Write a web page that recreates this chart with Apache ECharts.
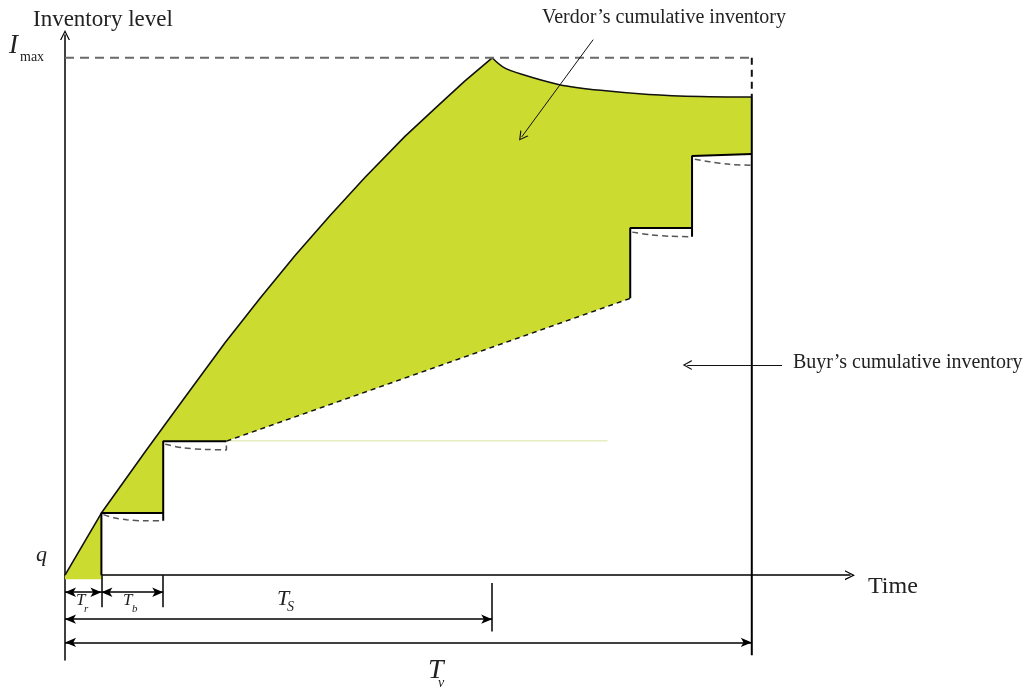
<!DOCTYPE html>
<html>
<head>
<meta charset="utf-8">
<script src="https://cdn.jsdelivr.net/npm/echarts@6/dist/echarts.min.js"></script>
<style>
html, body { margin: 0; background: #fff; }
#chart { width: 1027px; height: 691px; }
</style>
</head>
<body>
<div id="chart"></div>
<script>
// Einheiten: Zeit so, dass Tv = 100, Bestand so, dass Imax = 100

// Lieferant: kumulierter Bestand (Anstieg bis Imax, danach Abnahme)
var vendorRiseT = [0, 5.3, 11.7, 17.2, 23.3, 28.4, 33.5, 38.6, 43.7, 49.5, 54.2, 58.2, 62.2];
var vendorRiseI = [0, 12.0, 23.9, 33.9, 44.9, 53.5, 61.8, 69.5, 76.9, 84.8, 90.6, 95.5, 100];
var vendorFallT = [62.2, 63.8, 66.5, 72, 78, 85, 92.5, 100];
var vendorFallI = [100, 98.2, 96.8, 94.8, 93.7, 92.9, 92.5, 92.4];

// Käufer: Treppenkante (durchgezogen), je Abschnitt
var buyerStepT = [[5.3, 5.3, 14.3, 14.3, 14.3, 23.5], [82.3, 82.3, 91.3, 91.3, 91.3, 100]];
var buyerStepI = [[0, 12.0, 12.0, 10.5, 25.9, 25.9], [53.5, 67.1, 67.1, 65.4, 81.0, 81.4]];

// Verbrauchskurven unter den Stufen (gestrichelt)
var dipT = [[5.6, 7.1, 9.0, 11.6, 14.3], [14.6, 17.2, 20.5, 23.5, 23.5], [82.6, 85.2, 88.1, 91.3], [91.7, 93.9, 96.8, 100.4]];
var dipI = [[11.7, 11.1, 10.7, 10.5, 10.5], [25.3, 24.6, 24.3, 24.2, 25.9], [66.3, 65.8, 65.5, 65.4], [80.4, 79.9, 79.4, 79.2]];

// gestrichelter Anstieg zwischen den Lieferungen
var rampT = [23.5, 82.3];
var rampI = [25.9, 53.5];

// Untere Kante der grünen Fläche (rückwärts)
var fillLowT = [100, 91.3, 91.3, 82.3, 82.3, 23.5, 14.3, 14.3, 5.3, 5.3, 0];
var fillLowI = [81.4, 81.0, 67.1, 67.1, 53.5, 25.9, 25.9, 12.0, 12.0, -0.8, -0.8];

// Niveaus und Perioden
var Imax = 100;
var Tv = 100;
var Ts = 62.2;
var Tr = 5.3;
var Tb = 14.3;

function pairs(ts, is) {
	return ts.map(function (t, k) { return [t, is[k]]; });
}

var chevron = 'path://M0,10 L5,0 L10,10 L8.7,10 L5,2.6 L1.3,10 Z';
var serif = 'Liberation Serif';
var ink = '#222';

function plainLine(data, color, width, type, smooth) {
	return {
		type: 'line',
		data: data,
		showSymbol: false,
		symbol: 'none',
		smooth: smooth || false,
		silent: true,
		z: 3,
		lineStyle: { color: color, width: width, type: type || 'solid' }
	};
}

var fillPts = pairs(vendorRiseT, vendorRiseI)
	.concat(pairs(vendorFallT, vendorFallI).slice(1))
	.concat(pairs(fillLowT, fillLowI));

var series = [];

// Grüne Fläche zwischen Lieferant und Käufer
series.push({
	type: 'custom',
	silent: true,
	z: 1,
	data: [[0, 0]],
	renderItem: function (params, api) {
		var pts = fillPts.map(function (p) { return api.coord(p); });
		return { type: 'polygon', shape: { points: pts }, style: { fill: '#cbdb2f' } };
	}
});

// schwacher Schatten einer Linie
series.push(plainLine([[23.5, 26.0], [79, 26.0]], '#e6eebf', 1.5));

series.push(plainLine(pairs(vendorRiseT, vendorRiseI), '#111', 1.6));
series.push(plainLine(pairs(vendorFallT, vendorFallI), '#111', 1.5, 'solid', 0.3));

buyerStepT.forEach(function (ts, k) {
	series.push(plainLine(pairs(ts, buyerStepI[k]), '#000', 2));
});
dipT.forEach(function (ts, k) {
	series.push(plainLine(pairs(ts, dipI[k]), '#555', 1.5, [6, 4], 0.3));
});
series.push(plainLine(pairs(rampT, rampI), '#111', 1.5, [5, 4]));

// Imax-Linie, trägt die Bemaßungspfeile
var imaxLine = plainLine([[0, Imax], [Tv, Imax]], '#6a6a6a', 2, [9, 6]);
imaxLine.markLine = {
	silent: true,
	symbol: ['arrow', 'arrow'],
	symbolSize: [7, 11],
	label: { show: false },
	lineStyle: { color: '#000', width: 1.5, type: 'solid' },
	data: [
		[{ coord: [0, -3.3] }, { coord: [Tr, -3.3] }],
		[{ coord: [Tr, -3.3] }, { coord: [Tb, -3.3] }],
		[{ coord: [0, -8.5] }, { coord: [Ts, -8.5] }],
		[{ coord: [0, -13.0] }, { coord: [Tv, -13.0] }]
	]
};
series.push(imaxLine);

// rechte Kante oben gestrichelt, trägt die Bemaßungsstriche
var edgeTop = plainLine([[Tv, Imax], [Tv, 92.4]], '#111', 2, [7, 5]);
edgeTop.markLine = {
	silent: true,
	symbol: ['none', 'none'],
	label: { show: false },
	lineStyle: { color: '#000', width: 1.5, type: 'solid' },
	data: [
		[{ coord: [Tr, 0] }, { coord: [Tr, -6.2] }],
		[{ coord: [Tb, 0] }, { coord: [Tb, -6.2] }],
		[{ coord: [Ts, -1.5] }, { coord: [Ts, -10.9] }]
	]
};
series.push(edgeTop);

// rechte Kante durchgezogen, trägt die Hinweispfeile
var edge = plainLine([[Tv, 92.4], [Tv, -15.5]], '#000', 2);
edge.markLine = {
	silent: true,
	symbol: ['none', chevron],
	symbolSize: [10, 9],
	label: { show: false },
	lineStyle: { color: '#111', width: 1, type: 'solid' },
	data: [
		[{ coord: [76.9, 103.5] }, { coord: [66.5, 84.7] }],
		[{ coord: [104.4, 40.6] }, { coord: [90.6, 40.6] }]
	]
};
series.push(edge);

function txt(x, y, s, size, italic) {
	return {
		type: 'text',
		x: x,
		y: y,
		silent: true,
		style: {
			text: s,
			font: (italic ? 'italic ' : '') + size + 'px "' + serif + '"',
			fill: ink,
			align: 'left',
			verticalAlign: 'middle',
			textAlign: 'left',
			textVerticalAlign: 'middle'
		}
	};
}

var chart = echarts.init(document.getElementById('chart'), null, { renderer: 'canvas' });
chart.setOption({
	animation: false,
	backgroundColor: '#fff',
	grid: { left: 65, right: 177, top: 35, bottom: 31 },
	xAxis: {
		type: 'value',
		min: 0,
		max: 114.3,
		axisLine: { show: true, onZero: true, symbol: ['none', chevron], symbolSize: [12, 10], lineStyle: { color: '#000', width: 1.5 } },
		axisTick: { show: false },
		axisLabel: { show: false },
		splitLine: { show: false }
	},
	yAxis: {
		type: 'value',
		min: -16.4,
		max: 104.4,
		axisLine: { show: true, onZero: false, symbol: ['none', chevron], symbolSize: [12, 10], lineStyle: { color: '#000', width: 1.5 } },
		axisTick: { show: false },
		axisLabel: { show: false },
		splitLine: { show: false }
	},
	series: series,
	graphic: [
		txt(33, 20, 'Inventory level', 23, false),
		txt(9, 46, 'I', 27, true),
		txt(20, 57, 'max', 14, false),
		txt(36, 555, 'q', 22, true),
		txt(542, 18, 'Verdor\u2019s cumulative inventory', 20, false),
		txt(793, 363, 'Buyr\u2019s cumulative inventory', 20, false),
		txt(868, 587, 'Time', 24, false),
		txt(76, 601, 'T', 17, true),
		txt(84, 609, 'r', 11, true),
		txt(123, 601, 'T', 17, true),
		txt(132, 609, 'b', 11, true),
		txt(277, 599, 'T', 22, true),
		txt(287, 607, 'S', 14, true),
		txt(428, 671, 'T', 28, true),
		txt(438, 683, 'v', 14, true)
	]
});
</script>
</body>
</html>
